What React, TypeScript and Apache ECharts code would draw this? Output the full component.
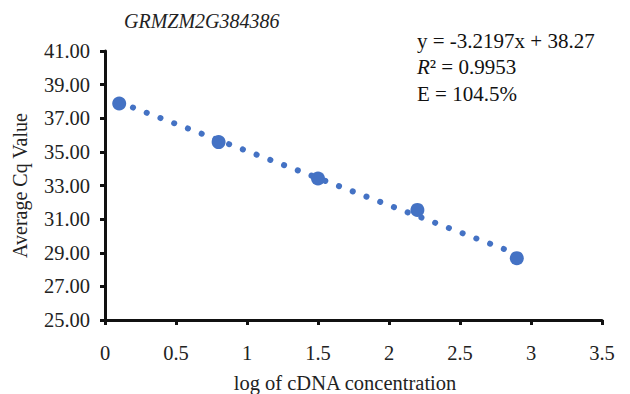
import React, { useEffect, useRef } from "react";
import * as echarts from "echarts";

const xValues = [0.1, 0.8, 1.5, 2.2, 2.9];
const cqValues = [37.88, 35.58, 33.42, 31.55, 28.68];
const trendX = [0.1, 2.9];
const trendY = [37.95, 28.93];
const chartTitle = "GRMZM2G384386";
const equationLines = ["y = -3.2197x + 38.27", "= 0.9953", "E = 104.5%"];

const FONT = "Liberation Serif";

export default function App() {
  const ref = useRef<HTMLDivElement>(null);
  useEffect(() => {
    if (!ref.current) return;
    const chart = echarts.init(ref.current, null, { renderer: "svg" });
    chart.setOption({
      animation: false,
      backgroundColor: "#ffffff",
      textStyle: { fontFamily: FONT },
      title: {
        text: chartTitle,
        left: 119,
        top: 6,
        textStyle: { fontFamily: FONT, fontStyle: "italic", fontWeight: "normal", fontSize: 20, color: "#222" },
      },
      grid: { left: 105, right: 28, top: 51, bottom: 74, containLabel: false, outerBoundsMode: "none" },
      xAxis: {
        type: "value",
        min: 0,
        max: 3.5,
        interval: 0.5,
        name: "log of cDNA concentration",
        nameLocation: "middle",
        nameGap: 52,
        nameTextStyle: { fontFamily: FONT, fontSize: 20.5, color: "#222", padding: [0, 17, 0, 0] },
        axisLine: { show: true, lineStyle: { color: "#111", width: 3 } },
        axisTick: { show: true, length: 5, inside: false, lineStyle: { color: "#111", width: 3 } },
        axisLabel: { fontFamily: FONT, fontSize: 20.5, color: "#222", margin: 22, formatter: (v: number) => String(v) },
        splitLine: { show: false },
      },
      yAxis: {
        type: "value",
        min: 25,
        max: 41,
        interval: 2,
        name: "Average Cq Value",
        nameLocation: "middle",
        nameGap: 75,
        nameTextStyle: { fontFamily: FONT, fontSize: 20, color: "#222" },
        axisLine: { show: true, lineStyle: { color: "#111", width: 3 } },
        axisTick: { show: true, length: 5, inside: false, lineStyle: { color: "#111", width: 3 } },
        axisLabel: { fontFamily: FONT, fontSize: 20.5, color: "#222", margin: 15, formatter: (v: number) => v.toFixed(2) },
        splitLine: { show: false },
      },
      graphic: [
        {
          type: "text",
          left: 417,
          top: 30,
          style: { text: equationLines[0], fontFamily: FONT, fontSize: 21, fill: "#111" },
        },
        {
          type: "text",
          left: 417,
          top: 56.5,
          style: {
            text: "{i|R}{n|² " + equationLines[1] + "}",
            rich: {
              i: { fontFamily: FONT, fontSize: 21, fontStyle: "italic", fill: "#111" },
              n: { fontFamily: FONT, fontSize: 21, fill: "#111" },
            },
          },
        },
        {
          type: "text",
          left: 417,
          top: 83,
          style: { text: equationLines[2], fontFamily: FONT, fontSize: 21, fill: "#111" },
        },
      ],
      series: [
        {
          type: "scatter",
          data: xValues.map((x, i) => [x, cqValues[i]]),
          symbol: "circle",
          symbolSize: 14,
          itemStyle: { color: "#4472C4", opacity: 1 },
          z: 2,
        },
        {
          type: "line",
          data: trendX.map((x, i) => [x, trendY[i]]),
          symbol: "none",
          lineStyle: { color: "#4472C4", width: 6, type: [0.1, 14.6], cap: "round" },
          z: 3,
        },
      ],
    });
    return () => chart.dispose();
  }, []);
  return <div ref={ref} style={{ position: "fixed", left: 0, top: 0, width: 630, height: 394 }} />;
}
